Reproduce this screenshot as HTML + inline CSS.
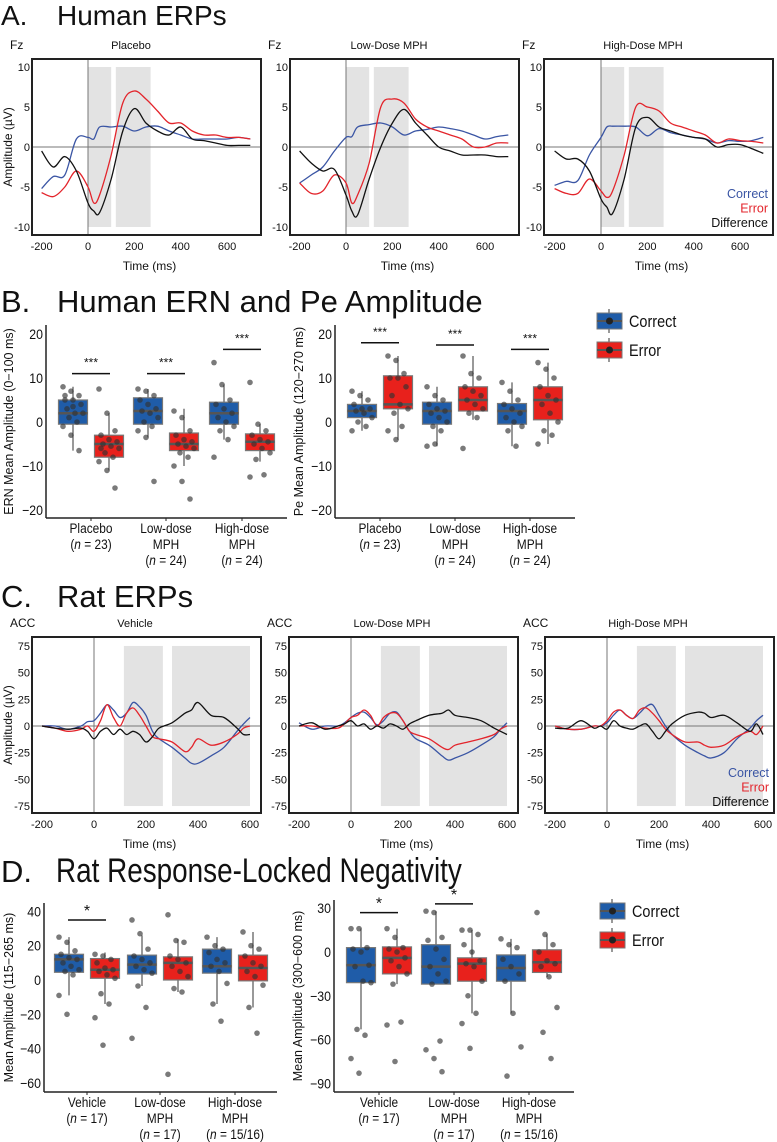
<!DOCTYPE html>
<html><head><meta charset="utf-8"><style>
html,body{margin:0;padding:0;background:#fff;}
svg{display:block;font-family:"Liberation Sans",sans-serif;}
</style></head><body>
<svg id="fig" width="777" height="1142" viewBox="0 0 777 1142" xmlns="http://www.w3.org/2000/svg"></svg>
<script>
// ===== Panel A data (Human ERPs, µV) =====
const timesA = [-200,-150,-100,-50,0,25,50,100,150,200,250,300,350,400,450,500,550,600,650,700];
const aPlaceboError   = [-5.7,-6.2,-5,-3,-5,-7,-6,-1,5.5,7,6,4.5,3,3,2,1.5,1.5,1.2,1.2,1];
const aPlaceboCorrect = [-5.2,-3.7,-3.5,1,1.2,1,2.5,2.5,2.6,2,2.5,2.6,2,1.5,1,1,1,1,1.2,1];
const aPlaceboDiff    = [-0.5,-2.5,-1.2,-3,-7,-8,-8.2,-4,2,4.8,3,2,1.5,2.5,1,0.8,0.5,0.2,0.2,0.2];
const aLowError   = [-4.5,-5.8,-5.5,-3.5,-4.5,-7,-6,-2,5,6,5.5,3.5,2.5,2,1.5,1,0,0,0.5,0.5];
const aLowCorrect = [-4.5,-3.5,-2.5,-0.5,1.2,1.3,2.5,2.8,3,2.5,1.5,2,2.2,2.5,2.3,2,1.5,1,1.3,1.5];
const aLowDiff    = [-0.5,-2,-3,-2.8,-6,-8,-8.5,-4,0,3,4.7,3,1.5,0,-0.5,-1,-1,-1,-1.2,-1.2];
const aHighError   = [-5.2,-5.8,-5.8,-4,-5.5,-6.3,-5.5,-1,5,5,4.5,3,2.5,2,1.5,0.5,1,0.8,0.7,0.5];
const aHighCorrect = [-4.8,-4.3,-4.2,-1,1.2,2.5,2.6,2.6,2.5,1.4,2.3,1.8,1.5,1.2,1,0.5,0.8,0.7,0.8,1.2];
const aHighDiff    = [-0.5,-1.5,-1.5,-3,-6.5,-7.5,-8.3,-4,2.5,3.7,2.5,2,1.5,1.2,1,0,0.3,0.3,-0.2,-0.8];
const aYTicks = [-10,-5,0,5,10];
const aXTicks = [-200,0,200,400,600];
const aWindows = [[0,100],[120,270]];

// ===== Panel C data (Rat ERPs, µV) =====
const timesC = [-200,-150,-100,-50,-25,0,25,50,75,100,125,150,175,200,225,250,300,350,375,400,450,500,550,575,600];
const cVehCorrect = [0,0,-3,0,4,5,12,20,15,8,12,22,18,10,-5,-12,-20,-30,-35,-35,-28,-20,-5,2,8];
const cVehError   = [0,-2,-5,-3,0,-5,5,20,8,0,12,17,10,0,-10,-12,-15,-24,-20,-12,-18,-15,-8,-2,0];
const cVehDiff    = [0,-2,-3,-2,-5,-12,-5,-2,-8,-3,-8,-5,-8,-15,-10,-2,3,12,15,22,10,8,-2,-8,-8];
const cLowCorrect = [3,-3,0,0,3,8,12,13,8,1,5,12,13,5,-5,-12,-18,-28,-32,-30,-25,-18,-10,-3,3];
const cLowError   = [0,0,-2,-2,2,8,10,15,10,0,8,12,12,5,-5,-8,-12,-20,-22,-18,-15,-12,-8,-3,0];
const cLowDiff    = [0,3,-3,0,2,5,0,2,-3,0,-2,2,0,-3,2,5,10,12,15,10,8,5,-2,-5,-8];
const cHighCorrect = [0,-3,-3,0,0,3,10,15,10,7,12,18,20,10,0,-8,-18,-25,-28,-30,-25,-12,-2,5,10];
const cHighError   = [0,-3,-3,0,0,5,13,15,10,7,15,17,12,5,-3,-8,-15,-15,-18,-20,-18,-10,-5,-8,0];
const cHighDiff    = [-2,-2,5,-2,0,-3,5,0,-2,-3,0,2,-5,-12,-5,2,10,13,12,8,10,3,-5,2,-8];
const cYTicks = [-75,-50,-25,0,25,50,75];
const cXTicks = [-200,0,200,400,600];
const cWindows = [[115,265],[300,600]];

// ===== Panel B data: [lowWhisker, q1, median, q3, highWhisker] =====
const bGroups = ["Placebo","Low-dose MPH","High-dose MPH"];
const bErnCorrectStats = [[-6.5,-0.5,2,5,8],[-3.5,-0.5,2.5,5.5,7.5],[-4,-0.5,2,4.5,8.5]];
const bErnErrorStats   = [[-11,-8,-5,-3,2],[-10,-6.5,-5,-2.5,3],[-9,-6.5,-4.5,-2.7,-0.5]];
const bPeCorrectStats  = [[-2,1,2.5,4,7],[-5.5,-0.5,2.5,4.5,8],[-5.5,-0.5,2.5,4.2,9]];
const bPeErrorStats    = [[-4,3,4,10.5,15],[0.5,2.5,5,8,15],[-5,0.5,5,8,13.5]];
const bErnCorrectPts = [[8,7,6,5,5,4,3,2,2,1,0,-1,-3,-6.5,6,3.5],[7.5,7,6,5,4,3,2.5,2,1,0,-1,-2,-3.5,-13.5],[13.5,8.5,5,4,3,2,1,0,-1,-2,-4,-8]];
const bErnErrorPts   = [[7.5,2,-2,-3,-4,-4.5,-5,-5.5,-6,-7,-8,-9,-11,-15,-6],[2.5,1,-2,-3,-4,-4.5,-5,-5.5,-6,-7,-8,-10,-13.5,-17.5],[9,-0.5,-2,-3,-4,-4.5,-5,-6,-7,-8.5,-12,-12.5]];
const bPeCorrectPts  = [[7,6,5,4,3,3,2.5,2,1,0,-1,-2],[8,6,5,4,3,2.5,2,1,0,-1,-2,-5.5,-5],[9,7,5,4,3,2,1,0,-1,-2,-5.5]];
const bPeErrorPts    = [[15,14,11,10,10,8,6,4,3,2,-1,-2,-4],[15,11,10,8,7,6,5,4,3,2,1,-6],[13.5,12,10,8,6,5,4,2,0,-2,-3,-5]];
const bErnSigY = [11,11,16.5];
const bPeSigY = [18,17.5,16.5];
const bYTicks = [-20,-10,0,10,20];

// ===== Panel D data =====
const dEarlyCorrectStats = [[-9,4.5,12,15,25],[-3.5,3.5,9,14.5,26],[-14,4,8,18,25]];
const dEarlyErrorStats   = [[-14,1,6,12.5,16],[-7,0,10,13.5,24],[-16,-0.5,7,14.5,28]];
const dLateCorrectStats  = [[-53,-21,-9,3,16],[-22,-22,-10,5,28],[-42,-20,-11,-2,9]];
const dLateErrorStats    = [[-22,-15,-4,3.5,16],[-42,-20,-8,-4,15],[-17,-14,-7,1.5,12]];
const dEarlyCorrectPts = [[25,22,17,15,13,12,10,8,6,5,3,-9,-20],[35,27,18,14,12,10,8,6,4,-3.5,-16,-34],[25,20,18,16,12,10,8,5,-2,-14,-24]];
const dEarlyErrorPts   = [[15,14,12,10,7,6,5,3,1,-8,-14,-22,-38],[38,23,22,14,12,10,8,5,2,-5,-7,-55],[28,20,18,14,10,8,5,2,-3,-16,-31]];
const dLateCorrectPts  = [[16,16,3,2,0,-9,-10,-20,-21,-53,-57,-73,-83],[28,27,10,8,2,-5,-10,-15,-20,-22,-61,-67,-73,-82],[9,5,3,-5,-10,-15,-20,-42,-65,-85]];
const dLateErrorPts    = [[16,10,3,2,0,-4,-6,-10,-15,-22,-48,-50,-75],[15,15,12,5,0,-6,-8,-10,-20,-30,-42,-49,-66],[27,12,5,0,-6,-8,-10,-17,-38,-55,-73]];
const dEarlySig = [[0,35]];
const dLateSig = [[0,27],[1,33]];
const dEarlyTicks = [-60,-40,-20,0,20,40];
const dLateTicks = [-90,-60,-30,0,30];

const NS = "http://www.w3.org/2000/svg";
const svg = document.getElementById("fig");
const BLUE = "#3a55a4", RED = "#e3242b";
const BOXBLUE = "#1f5ca8", BOXRED = "#e8211c";

function mk(tag, attrs, parent){
  const e = document.createElementNS(NS, tag);
  for (const k in attrs) e.setAttribute(k, attrs[k]);
  (parent || svg).appendChild(e);
  return e;
}
function txt(x, y, s, size, anchor, parent, extra){
  const e = mk("text", Object.assign({x:x, y:y, "font-size":size, "text-anchor":anchor||"start", fill:"#111"}, extra||{}), parent);
  e.textContent = s;
  return e;
}
function ntxt(x, y, html, size, anchor, parent, sx){
  const g = mk("g", {transform:"translate("+x+","+y+") scale("+(sx||0.86)+",1)"}, parent);
  const e = mk("text", {x:0, y:0, "font-size":size, "text-anchor":anchor||"start", fill:"#111"}, g);
  e.innerHTML = html;
  return e;
}
function smoothPath(pts){
  let d = "M" + pts[0][0].toFixed(1) + "," + pts[0][1].toFixed(1);
  for (let i=0;i<pts.length-1;i++){
    const p0 = pts[Math.max(i-1,0)], p1 = pts[i], p2 = pts[i+1], p3 = pts[Math.min(i+2,pts.length-1)];
    const c1x = p1[0]+(p2[0]-p0[0])/6, c1y = p1[1]+(p2[1]-p0[1])/6;
    const c2x = p2[0]-(p3[0]-p1[0])/6, c2y = p2[1]-(p3[1]-p1[1])/6;
    d += " C"+c1x.toFixed(1)+","+c1y.toFixed(1)+" "+c2x.toFixed(1)+","+c2y.toFixed(1)+" "+p2[0].toFixed(1)+","+p2[1].toFixed(1);
  }
  return d;
}

function title(letter, words, y, name, size, condensed){
  const e = mk("text", {x:1, y:y, "font-size":size, fill:"#111"});
  e.innerHTML = letter + (condensed ? "" : "<tspan x='57'>" + words + "</tspan>");
  
  
  if (condensed){
    const c = ntxt(56, y, words, 34, "start", svg, 0.82);
    
    
  }
}
title("A.", "Human ERPs", 25, "panel-a-title", 28);
title("B.", "Human ERN and Pe Amplitude", 312, "panel-b-title", 31);
title("C.", "Rat ERPs", 607, "panel-c-title", 31);
title("D.", "Rat Response-Locked Negativity", 882, "panel-d-title", 31, true);

function erpChart(cfg){
  const g = mk("g", {});
  
  
  const xs = tm => cfg.x0 + tm*cfg.xk;
  const ys = v => cfg.y0 - v*cfg.yk;
  const vmax = cfg.yTicks[cfg.yTicks.length-1], vmin = cfg.yTicks[0];
  cfg.windows.forEach((w,i)=>{
    const r = mk("rect", {x:xs(w[0]), y:ys(vmax), width:xs(w[1])-xs(w[0]), height:ys(vmin)-ys(vmax), fill:"#e3e3e3"}, g);
    
    
  });
  let l = mk("line", {x1:cfg.bx, x2:cfg.bx+cfg.bw, y1:ys(0), y2:ys(0), stroke:"#777", "stroke-width":1}, g);
  
  
  l = mk("line", {x1:xs(0), x2:xs(0), y1:cfg.by, y2:cfg.by+cfg.bh, stroke:"#777", "stroke-width":1}, g);
  
  
  const series = [[cfg.correct, BLUE, "correct-line"],[cfg.error, RED, "error-line"],[cfg.diff, "#111", "difference-line"]];
  series.forEach(s=>{
    const pts = cfg.times.map((tm,i)=>[xs(tm), ys(s[0][i])]);
    const p = mk("path", {d:smoothPath(pts), fill:"none", stroke:s[1], "stroke-width":1.3}, g);
    
    
  });
  const f = mk("rect", {x:cfg.bx, y:cfg.by, width:cfg.bw, height:cfg.bh, fill:"none", stroke:"#222", "stroke-width":2}, g);
  
  
  cfg.yTicks.forEach(v=>{
    const e = txt(cfg.bx-2, ys(v)+4, String(v), 11, "end", g);
    
    
  });
  cfg.xTicks.forEach(v=>{
    const e = txt(xs(v), cfg.by+cfg.bh+15, String(v), 11, "middle", g);
    
    
  });
  let e = txt(cfg.bx+cfg.bw/2+3, cfg.by+cfg.bh+35, "Time (ms)", 12, "middle", g);
  
  
  e = txt(cfg.bx-22, cfg.by-10, cfg.site, 12, "start", g);
  
  
  e = txt(cfg.bx+cfg.titleOff, cfg.by-10, cfg.title, 11, "middle", g);
  
  
  if (cfg.ylabel){
    e = txt(0, 0, "Amplitude (µV)", 12, "middle", g, {transform:"translate(12,"+(cfg.by+cfg.bh/2)+") rotate(-90)"});
    
    
  }
  if (cfg.legendY){
    const lab = [["Correct",BLUE],["Error",RED],["Difference","#111"]];
    lab.forEach((L,i)=>{
      const le = txt(cfg.bx+cfg.bw-5, cfg.legendY+i*14.5, L[0], 12.5, "end", g, {fill:L[1]});
      
      
    });
  }
}

const aOff = [0,258,512];
const aTitles = ["Placebo","Low-Dose MPH","High-Dose MPH"];
const aData = [[aPlaceboCorrect,aPlaceboError,aPlaceboDiff],[aLowCorrect,aLowError,aLowDiff],[aHighCorrect,aHighError,aHighDiff]];
aOff.forEach((o,i)=>{
  erpChart({name:"human-erp-"+["placebo","low-dose","high-dose"][i], bx:32+o, by:59, bw:229, bh:176,
    x0:88+o+(i==2?1:0), xk:0.2318, y0:147, yk:8, times:timesA,
    correct:aData[i][0], error:aData[i][1], diff:aData[i][2],
    yTicks:aYTicks, xTicks:aXTicks, windows:aWindows, site:"Fz", title:aTitles[i], titleOff:99,
    ylabel:i==0, legendY:i==2?198:null});
});
const cOff = [0,257,513];
const cTitles = ["Vehicle","Low-Dose MPH","High-Dose MPH"];
const cData = [[cVehCorrect,cVehError,cVehDiff],[cLowCorrect,cLowError,cLowDiff],[cHighCorrect,cHighError,cHighDiff]];
cOff.forEach((o,i)=>{
  erpChart({name:"rat-erp-"+["vehicle","low-dose","high-dose"][i], bx:32+o, by:637, bw:229, bh:176,
    x0:94+o, xk:0.2600, y0:726, yk:1.067, times:timesC,
    correct:cData[i][0], error:cData[i][1], diff:cData[i][2],
    yTicks:cYTicks, xTicks:cXTicks, windows:cWindows, site:"ACC", title:cTitles[i], titleOff:103,
    ylabel:i==0, legendY:i==2?777:null});
});

function boxChart(cfg){
  const g = mk("g", {});
  
  
  const ys = v => cfg.y0 - v*cfg.yk;
  let a = mk("line", {x1:cfg.ax, x2:cfg.ax, y1:cfg.axTop, y2:cfg.axBot, stroke:"#222", "stroke-width":1.5}, g);
  
  
  a = mk("line", {x1:cfg.ax, x2:cfg.axRight, y1:cfg.axBot, y2:cfg.axBot, stroke:"#222", "stroke-width":1.5}, g);
  
  
  cfg.yTicks.forEach(v=>{
    const e = ntxt(cfg.ax-3, ys(v)+5, String(v).replace("-","−"), 14, "end", g, 0.88);
    
    
  });
  let e = txt(0, 0, cfg.ylabel, 12.5, "middle", g, {transform:"translate("+cfg.ylx+","+((cfg.axTop+cfg.axBot)/2)+") rotate(-90)"});
  
  
  cfg.centers.forEach((cx,gi)=>{
    const tk = mk("line", {x1:cx, x2:cx, y1:cfg.axBot, y2:cfg.axBot+3, stroke:"#222"}, g);
    
    
    cfg.labels[gi].forEach((line,li)=>{
      const le = ntxt(cx, cfg.axBot+15+li*16, line, 14, "middle", g, 0.85);
      
      
    });
    [[cfg.cStats, cfg.cPts, BOXBLUE, -18, "correct"],[cfg.eStats, cfg.ePts, BOXRED, 18, "error"]].forEach(S=>{
      const st = S[0][gi], bxc = cx + S[3];
      const wk = mk("line", {x1:bxc, x2:bxc, y1:ys(st[0]), y2:ys(st[4]), stroke:"#333", "stroke-width":1}, g);
      
      
      const bx = mk("rect", {x:bxc-14.5, y:ys(st[3]), width:29, height:ys(st[1])-ys(st[3]), fill:S[2], stroke:"#777", "stroke-width":1.2}, g);
      
      
      const md = mk("line", {x1:bxc-14.5, x2:bxc+14.5, y1:ys(st[2]), y2:ys(st[2]), stroke:"#555", "stroke-width":2.5}, g);
      
      
      S[1][gi].forEach((v,pi)=>{
        const jx = ((pi*37)%11 - 5) * 2;
        const c = mk("circle", {cx:bxc+jx, cy:ys(v), r:2.8, fill:"#333", "fill-opacity":0.65}, g);
        
        
      });
    });
  });
  cfg.sig.forEach(sg=>{
    const cx = cfg.centers[sg[0]];
    const ln = mk("line", {x1:cx-19, x2:cx+19, y1:ys(sg[1]), y2:ys(sg[1]), stroke:"#111", "stroke-width":1.5}, g);
    
    
    const st = txt(cx, ys(sg[1])-cfg.starGap, cfg.star, cfg.starSize, "middle", g);
    
    
  });
}
function legend(x, y, name){
  const g = mk("g", {});
  
  
  [["Correct",BOXBLUE],["Error",BOXRED]].forEach((L,i)=>{
    const yy = y + i*29;
    const wl = mk("line", {x1:x+12, x2:x+12, y1:yy-4, y2:yy+20, stroke:"#333"}, g);
    
    
    const r = mk("rect", {x:x, y:yy, width:25, height:16, fill:L[1], stroke:"#777"}, g);
    
    
    const m = mk("line", {x1:x, x2:x+25, y1:yy+8, y2:yy+8, stroke:"#555", "stroke-width":2}, g);
    
    
    const c = mk("circle", {cx:x+12.5, cy:yy+8, r:3.5, fill:"#222"}, g);
    
    
    const tx = ntxt(x+32, yy+14, L[0], 17, "start", g, 0.85);
    
    
  });
}
const bLabels = [["Placebo","(<tspan font-style='italic'>n</tspan> = 23)"],["Low-dose","MPH","(<tspan font-style='italic'>n</tspan> = 24)"],["High-dose","MPH","(<tspan font-style='italic'>n</tspan> = 24)"]];
const dLabels = [["Vehicle","(<tspan font-style='italic'>n</tspan> = 17)"],["Low-dose","MPH","(<tspan font-style='italic'>n</tspan> = 17)"],["High-dose","MPH","(<tspan font-style='italic'>n</tspan> = 15/16)"]];

boxChart({name:"ern-boxplot", ax:46, axTop:325, axBot:518, axRight:287, y0:422, yk:4.4, yTicks:bYTicks,
  ylabel:"ERN Mean Amplitude (0−100 ms)", ylx:13, centers:[91,166,242], labels:bLabels,
  cStats:bErnCorrectStats, eStats:bErnErrorStats, cPts:bErnCorrectPts, ePts:bErnErrorPts,
  sig:bErnSigY.map((v,i)=>[i,v]), star:"***", starGap:7, starSize:12});
boxChart({name:"pe-boxplot", ax:335, axTop:325, axBot:518, axRight:575, y0:422, yk:4.4, yTicks:bYTicks,
  ylabel:"Pe Mean Amplitude (120−270 ms)", ylx:303, centers:[380,455,530], labels:bLabels,
  cStats:bPeCorrectStats, eStats:bPeErrorStats, cPts:bPeCorrectPts, ePts:bPeErrorPts,
  sig:bPeSigY.map((v,i)=>[i,v]), star:"***", starGap:7, starSize:12});
legend(597, 313, "legend-panel-b");

boxChart({name:"rat-early-boxplot", ax:44, axTop:903, axBot:1092, axRight:277, y0:980, yk:1.715, yTicks:dEarlyTicks,
  ylabel:"Mean Amplitude (115−265 ms)", ylx:13, centers:[87,160,235], labels:dLabels,
  cStats:dEarlyCorrectStats, eStats:dEarlyErrorStats, cPts:dEarlyCorrectPts, ePts:dEarlyErrorPts,
  sig:dEarlySig, star:"*", starGap:4, starSize:16});
boxChart({name:"rat-late-boxplot", ax:334, axTop:900, axBot:1092, axRight:574, y0:952, yk:1.46, yTicks:dLateTicks,
  ylabel:"Mean Amplitude (300−600 ms)", ylx:302, centers:[379,454,529], labels:dLabels,
  cStats:dLateCorrectStats, eStats:dLateErrorStats, cPts:dLateCorrectPts, ePts:dLateErrorPts,
  sig:dLateSig, star:"*", starGap:4, starSize:16});
legend(600, 903, "legend-panel-d");
</script>
</body></html>
